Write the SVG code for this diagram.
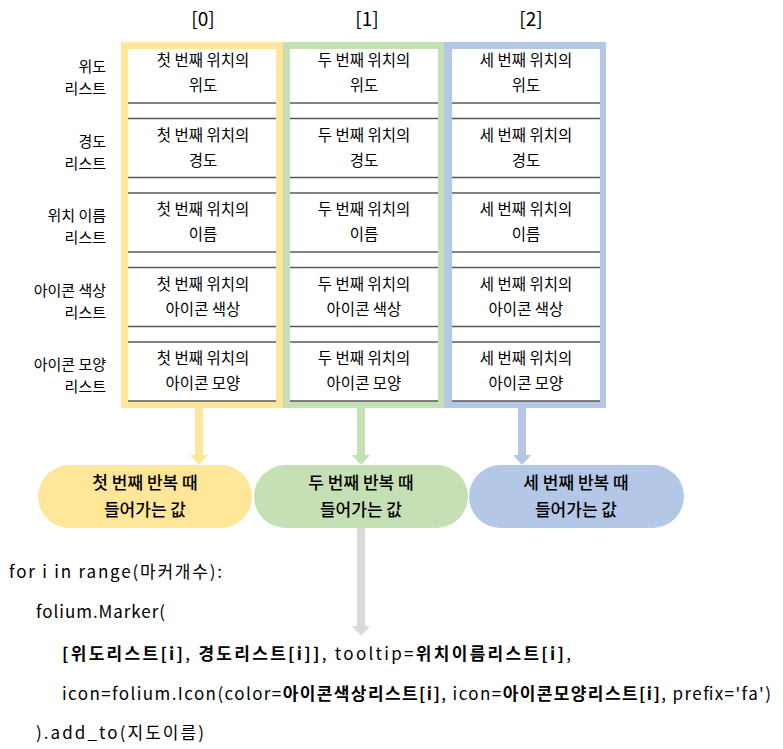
<svg xmlns="http://www.w3.org/2000/svg" width="783" height="749" viewBox="0 0 783 749">
<style>
text{font-family:"Noto Sans CJK KR","Noto Sans",sans-serif;fill:#000}
.hd{font-size:19px;text-anchor:middle}
.lb{font-size:15px;text-anchor:end}
.cl{font-size:15.5px;text-anchor:middle}
.pl{font-size:17px;text-anchor:middle;font-weight:500}
.cd{font-size:17px}
.b{font-weight:bold}
.sep{stroke:#595959;stroke-width:1.6}
.ay{fill:#FFE699}.ag{fill:#C5E0B4}.ab{fill:#B4C7E7}.ax{fill:#D9D9D9}
</style>
<defs>
<g id="seps">
<line class="sep" x1="0" y1="103" x2="148" y2="103"/><line class="sep" x1="0" y1="118.5" x2="148" y2="118.5"/>
<line class="sep" x1="0" y1="177.5" x2="148" y2="177.5"/><line class="sep" x1="0" y1="193" x2="148" y2="193"/>
<line class="sep" x1="0" y1="252" x2="148" y2="252"/><line class="sep" x1="0" y1="267.5" x2="148" y2="267.5"/>
<line class="sep" x1="0" y1="326.5" x2="148" y2="326.5"/><line class="sep" x1="0" y1="342" x2="148" y2="342"/>
<line class="sep" x1="0" y1="401" x2="148" y2="401"/>
</g>
</defs>
<rect width="783" height="749" fill="#fff"/>

<g id="headers">
<text class="hd" x="203" y="26">[0]</text>
<text class="hd" x="367" y="26">[1]</text>
<text class="hd" x="531" y="26">[2]</text>
</g>

<g id="row-labels">
<text class="lb" x="106" y="72">위도</text><text class="lb" x="106" y="94">리스트</text>
<text class="lb" x="106" y="146.5">경도</text><text class="lb" x="106" y="168.5">리스트</text>
<text class="lb" x="106" y="221">위치 이름</text><text class="lb" x="106" y="243">리스트</text>
<text class="lb" x="106" y="295.5">아이콘 색상</text><text class="lb" x="106" y="317.5">리스트</text>
<text class="lb" x="106" y="370">아이콘 모양</text><text class="lb" x="106" y="392">리스트</text>
</g>

<g id="col0">
<rect x="121" y="42" width="162" height="366" class="ay"/>
<rect x="128" y="49" width="148" height="352" fill="#fff"/>
<use href="#seps" x="128"/>
<text class="cl" x="203" y="66">첫 번째 위치의</text><text class="cl" x="203" y="91">위도</text>
<text class="cl" x="203" y="140.5">첫 번째 위치의</text><text class="cl" x="203" y="165.5">경도</text>
<text class="cl" x="203" y="215">첫 번째 위치의</text><text class="cl" x="203" y="240">이름</text>
<text class="cl" x="203" y="289.5">첫 번째 위치의</text><text class="cl" x="203" y="314.5">아이콘 색상</text>
<text class="cl" x="203" y="364">첫 번째 위치의</text><text class="cl" x="203" y="389">아이콘 모양</text>
</g>

<g id="col1">
<rect x="283" y="42" width="161" height="366" class="ag"/>
<rect x="290" y="49" width="148" height="352" fill="#fff"/>
<use href="#seps" x="290"/>
<text class="cl" x="364" y="66">두 번째 위치의</text><text class="cl" x="364" y="91">위도</text>
<text class="cl" x="364" y="140.5">두 번째 위치의</text><text class="cl" x="364" y="165.5">경도</text>
<text class="cl" x="364" y="215">두 번째 위치의</text><text class="cl" x="364" y="240">이름</text>
<text class="cl" x="364" y="289.5">두 번째 위치의</text><text class="cl" x="364" y="314.5">아이콘 색상</text>
<text class="cl" x="364" y="364">두 번째 위치의</text><text class="cl" x="364" y="389">아이콘 모양</text>
</g>

<g id="col2">
<rect x="444" y="42" width="162" height="366" class="ab"/>
<rect x="452" y="49" width="148" height="352" fill="#fff"/>
<use href="#seps" x="452"/>
<text class="cl" x="526" y="66">세 번째 위치의</text><text class="cl" x="526" y="91">위도</text>
<text class="cl" x="526" y="140.5">세 번째 위치의</text><text class="cl" x="526" y="165.5">경도</text>
<text class="cl" x="526" y="215">세 번째 위치의</text><text class="cl" x="526" y="240">이름</text>
<text class="cl" x="526" y="289.5">세 번째 위치의</text><text class="cl" x="526" y="314.5">아이콘 색상</text>
<text class="cl" x="526" y="364">세 번째 위치의</text><text class="cl" x="526" y="389">아이콘 모양</text>
</g>

<g id="connectors">
<path class="ay" d="M195,408 H203 V455 H208 L199,465 L190,455 H195 Z"/>
<path class="ag" d="M357,408 H365 V455 H370 L361,465 L352,455 H357 Z"/>
<path class="ab" d="M518,408 H526 V455 H531 L522,465 L513,455 H518 Z"/>
<path class="ax" d="M357,528 H365 V626 H370 L361,636 L352,626 H357 Z"/>
</g>

<g id="pill0">
<rect x="38" y="465" width="214" height="63" rx="31.5" class="ay"/>
<text class="pl" x="145" y="489">첫 번째 반복 때</text>
<text class="pl" x="145" y="516">들어가는 값</text>
</g>
<g id="pill1">
<rect x="254" y="465" width="214" height="63" rx="31.5" class="ag"/>
<text class="pl" x="361" y="489">두 번째 반복 때</text>
<text class="pl" x="361" y="516">들어가는 값</text>
</g>
<g id="pill2">
<rect x="469" y="465" width="215" height="63" rx="31.5" class="ab"/>
<text class="pl" x="576" y="489">세 번째 반복 때</text>
<text class="pl" x="576" y="516">들어가는 값</text>
</g>

<g id="code">
<text class="cd" x="9" y="578" textLength="213" lengthAdjust="spacing">for i in range(마커개수):</text>
<text class="cd" x="36" y="618" textLength="129" lengthAdjust="spacing">folium.Marker(</text>
<text class="cd" x="62" y="660" textLength="509" lengthAdjust="spacing"><tspan class="b">[위도리스트[i]</tspan>, <tspan class="b">경도리스트[i]]</tspan>, tooltip=<tspan class="b">위치이름리스트[i]</tspan>,</text>
<text class="cd" x="62" y="700" textLength="709" lengthAdjust="spacing">icon=folium.Icon(color=<tspan class="b">아이콘색상리스트[i]</tspan>, icon=<tspan class="b">아이콘모양리스트[i]</tspan>, prefix='fa')</text>
<text class="cd" x="36" y="739" textLength="168" lengthAdjust="spacing">).add_to(지도이름)</text>
</g>
</svg>
